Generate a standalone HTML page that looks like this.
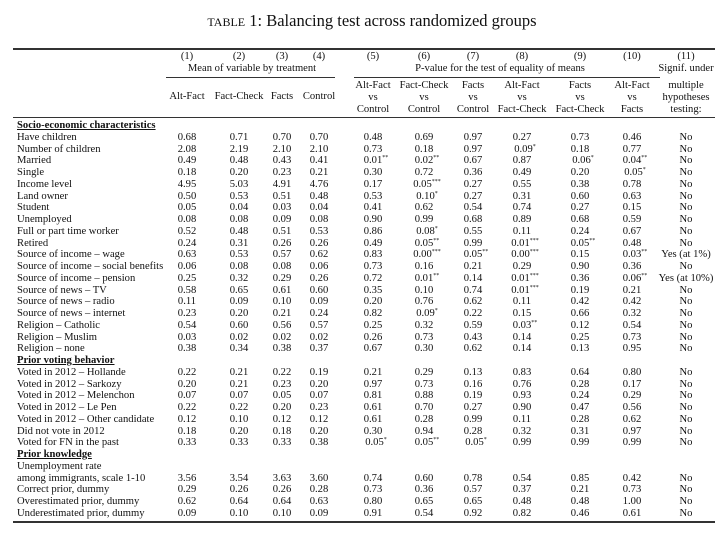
<!DOCTYPE html>
<html><head><meta charset="utf-8">
<style>
body{margin:0;background:#fff;width:725px;height:538px;overflow:hidden;position:relative;font-family:"Liberation Serif",serif;color:#111;}
.t{position:absolute;white-space:nowrap;font-size:10.6px;line-height:12px;}
.c{transform:translateX(-50%);text-align:center;}
.r{position:absolute;background:#333;}
sup{font-size:6px;vertical-align:4px;line-height:0;}
.h{font-weight:bold;text-decoration:underline;}
</style></head><body>
<div id="root"></div>
<script>
const colX=[187,239,282,319,373,424,473,522,580,632,686];
const colHeads1=["(1)","(2)","(3)","(4)","(5)","(6)","(7)","(8)","(9)","(10)","(11)"];
const colHeads2=[["Alt-Fact"],["Fact-Check"],["Facts"],["Control"],["Alt-Fact","vs","Control"],["Fact-Check","vs","Control"],["Facts","vs","Control"],["Alt-Fact","vs","Fact-Check"],["Facts","vs","Fact-Check"],["Alt-Fact","vs","Facts"],["multiple","hypotheses","testing:"]];
const rows=[
["H","Socio-economic characteristics"],
["Have children","0.68","0.71","0.70","0.70","0.48","0.69","0.97","0.27","0.73","0.46","No"],
["Number of children","2.08","2.19","2.10","2.10","0.73","0.18","0.97","0.09*","0.18","0.77","No"],
["Married","0.49","0.48","0.43","0.41","0.01**","0.02**","0.67","0.87","0.06*","0.04**","No"],
["Single","0.18","0.20","0.23","0.21","0.30","0.72","0.36","0.49","0.20","0.05*","No"],
["Income level","4.95","5.03","4.91","4.76","0.17","0.05***","0.27","0.55","0.38","0.78","No"],
["Land owner","0.50","0.53","0.51","0.48","0.53","0.10*","0.27","0.31","0.60","0.63","No"],
["Student","0.05","0.04","0.03","0.04","0.41","0.62","0.54","0.74","0.27","0.15","No"],
["Unemployed","0.08","0.08","0.09","0.08","0.90","0.99","0.68","0.89","0.68","0.59","No"],
["Full or part time worker","0.52","0.48","0.51","0.53","0.86","0.08*","0.55","0.11","0.24","0.67","No"],
["Retired","0.24","0.31","0.26","0.26","0.49","0.05**","0.99","0.01***","0.05**","0.48","No"],
["Source of income – wage","0.63","0.53","0.57","0.62","0.83","0.00***","0.05**","0.00***","0.15","0.03**","Yes (at 1%)"],
["Source of income – social benefits","0.06","0.08","0.08","0.06","0.73","0.16","0.21","0.29","0.90","0.36","No"],
["Source of income – pension","0.25","0.32","0.29","0.26","0.72","0.01**","0.14","0.01***","0.36","0.06**","Yes (at 10%)"],
["Source of news – TV","0.58","0.65","0.61","0.60","0.35","0.10","0.74","0.01***","0.19","0.21","No"],
["Source of news – radio","0.11","0.09","0.10","0.09","0.20","0.76","0.62","0.11","0.42","0.42","No"],
["Source of news – internet","0.23","0.20","0.21","0.24","0.82","0.09*","0.22","0.15","0.66","0.32","No"],
["Religion – Catholic","0.54","0.60","0.56","0.57","0.25","0.32","0.59","0.03**","0.12","0.54","No"],
["Religion – Muslim","0.03","0.02","0.02","0.02","0.26","0.73","0.43","0.14","0.25","0.73","No"],
["Religion – none","0.38","0.34","0.38","0.37","0.67","0.30","0.62","0.14","0.13","0.95","No"],
["H","Prior voting behavior"],
["Voted in 2012 – Hollande","0.22","0.21","0.22","0.19","0.21","0.29","0.13","0.83","0.64","0.80","No"],
["Voted in 2012 – Sarkozy","0.20","0.21","0.23","0.20","0.97","0.73","0.16","0.76","0.28","0.17","No"],
["Voted in 2012 – Melenchon","0.07","0.07","0.05","0.07","0.81","0.88","0.19","0.93","0.24","0.29","No"],
["Voted in 2012 – Le Pen","0.22","0.22","0.20","0.23","0.61","0.70","0.27","0.90","0.47","0.56","No"],
["Voted in 2012 – Other candidate","0.12","0.10","0.12","0.12","0.61","0.28","0.99","0.11","0.28","0.62","No"],
["Did not vote in 2012","0.18","0.20","0.18","0.20","0.30","0.94","0.28","0.32","0.31","0.97","No"],
["Voted for FN in the past","0.33","0.33","0.33","0.38","0.05*","0.05**","0.05*","0.99","0.99","0.99","No"],
["H","Prior knowledge"],
["Unemployment rate"],
["among immigrants, scale 1-10","3.56","3.54","3.63","3.60","0.74","0.60","0.78","0.54","0.85","0.42","No"],
["Correct prior, dummy","0.29","0.26","0.26","0.28","0.73","0.36","0.57","0.37","0.21","0.73","No"],
["Overestimated prior, dummy","0.62","0.64","0.64","0.63","0.80","0.65","0.65","0.48","0.48","1.00","No"],
["Underestimated prior, dummy","0.09","0.10","0.10","0.09","0.91","0.54","0.92","0.82","0.46","0.61","No"]
];
const root=document.getElementById('root');
function txt(s,x,y,cls,name){const d=document.createElement('div');d.className='t '+(cls||'');d.style.left=x+'px';d.style.top=(y-6)+'px';
const m=s.match(/^(.*?)(\*+)$/);if(m){d.textContent=m[1];const sp=document.createElement('sup');sp.textContent=m[2];d.appendChild(sp);}else d.textContent=s;


root.appendChild(d);return d;}
function rule(x,y,w,h,name){const d=document.createElement('div');d.className='r';d.style.left=x+'px';d.style.top=y+'px';d.style.width=w+'px';d.style.height=h+'px';


root.appendChild(d);}
const tt=txt('',372,21,'c','table-title');tt.style.fontSize='16.5px';tt.style.lineHeight='17px';tt.style.top='12px';
tt.innerHTML='<span style="font-size:12px">TABLE</span> 1: Balancing test across randomized groups';
rule(13,48,702,1.5,'top-rule');
colHeads1.forEach((h,i)=>txt(h,colX[i],57,'c','col-number'));
txt('Mean of variable by treatment',252,69,'c','mean-group-header');
txt('P-value for the test of equality of means',500,69,'c','pvalue-group-header');
txt('Signif. under',686,69,'c','signif-header');
rule(166,77,169,1,'mean-group-rule');
rule(354,77,306,1,'pvalue-group-rule');
colHeads2.forEach((h,i)=>{const off=h.length===1?97:86;h.forEach((s,j)=>txt(s,colX[i],off+j*12,'c','col-header'));});
rule(13,117,702,1,'header-rule');
const y0=126,dy=11.75;
rows.forEach((r,i)=>{const y=y0+i*dy;
if(r[0]==='H'){txt(r[1],17,y,'h','section-header');return;}
txt(r[0],17,y,'','row-label');
for(let k=1;k<r.length;k++){const d=txt(r[k],colX[k-1],y,'','cell-value');d.style.transform='translateX(-50%)';
if(/\*$/.test(r[k])){d.style.transform='translateX(calc(-50% + 3px))';}}
});
rule(13,521,702,1.5,'bottom-rule');
</script>
</body></html>
